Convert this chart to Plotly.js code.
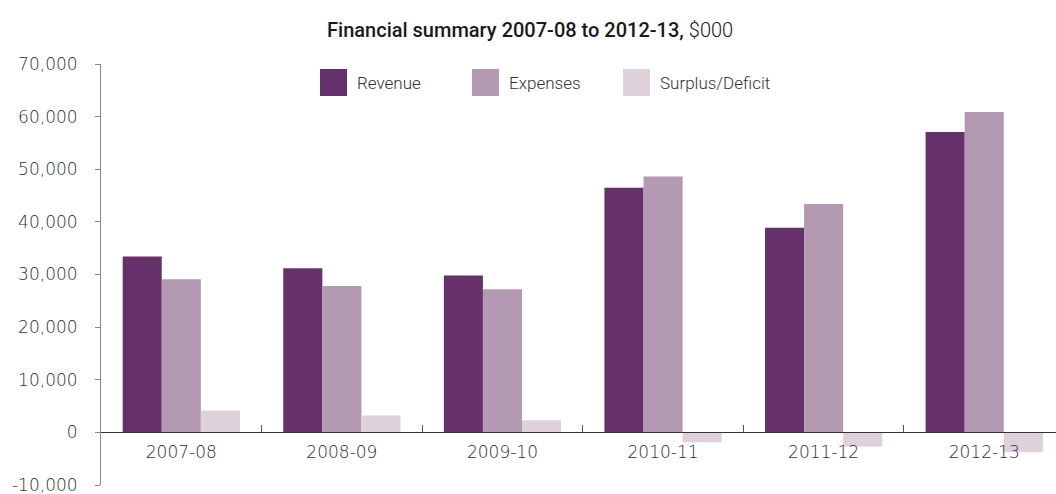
<!DOCTYPE html>
<html>
<head>
<meta charset="utf-8">
<script src="https://cdn.plot.ly/plotly-3.0.1.min.js"></script>
<style>html,body{margin:0;padding:0;background:#fff;}#chart{width:1056px;height:494px;}</style>
</head>
<body>
<div id="chart"></div>
<script>
// ---- data ----
var categories = ["2007-08", "2008-09", "2009-10", "2010-11", "2011-12", "2012-13"];
var seriesNames = ["Revenue", "Expenses", "Surplus/Deficit"];
var revenue = [33400, 31200, 29800, 46500, 38900, 57100];
var expenses = [29100, 27800, 27200, 48600, 43400, 60900];
var surplus = [4100, 3200, 2300, -1900, -2700, -3800];
var yTickVals = [-10000, 0, 10000, 20000, 30000, 40000, 50000, 60000, 70000];
var yTickText = ["-10,000", "0", "10,000", "20,000", "30,000", "40,000", "50,000", "60,000", "70,000"];

// ---- styling ----
var colors = ["#66306A", "#B399B2", "#DED1DC"];
var W = 1056, H = 494;
var M = {l: 101, r: 0, t: 64, b: 9};
var plotW = W - M.l - M.r, plotH = H - M.t - M.b;
function px2x(px) { return (px - M.l) / plotW; }
function px2y(py) { return (H - M.b - py) / plotH; }
var legendFont = {family: "Roboto, 'DejaVu Sans', sans-serif", size: 17, color: "#333333", weight: 300};
var tickFont = {family: "'DejaVu Sans', sans-serif", size: 17, color: "#2e2e2e", weight: 200};

var valuesList = [revenue, expenses, surplus];
var traces = valuesList.map(function (vals, i) {
  return {
    type: "bar",
    name: seriesNames[i],
    x: categories,
    y: vals,
    marker: {color: colors[i], line: {width: 0}},
    showlegend: false,
    hoverinfo: "x+y+name"
  };
});

// manual legend (large square swatches)
var legendSwatchX = [320, 472, 623];
var legendTextX = [355, 507, 658];
var shapes = [], annotations = [];
seriesNames.forEach(function (n, i) {
  shapes.push({
    type: "rect", xref: "paper", yref: "paper",
    x0: px2x(legendSwatchX[i]), x1: px2x(legendSwatchX[i] + 27),
    y0: px2y(96), y1: px2y(69),
    fillcolor: colors[i], line: {width: 0}
  });
  annotations.push({
    xref: "paper", yref: "paper", x: px2x(legendTextX[i]), y: px2y(83),
    xanchor: "left", yanchor: "middle", showarrow: false,
    text: n, font: legendFont
  });
});

var layout = {
  width: W, height: H,
  margin: M,
  paper_bgcolor: "#fff", plot_bgcolor: "#fff",
  font: legendFont,
  title: {
    text: "Financial summary 2007-08 to 2012-13, <span style='font-weight:300'>$000</span>",
    font: {family: "Roboto, 'DejaVu Sans', sans-serif", size: 20, color: "#1a1a1a", weight: 500},
    x: 0.502, xref: "container", xanchor: "center",
    y: 1 - 30 / H, yref: "container", yanchor: "middle"
  },
  barmode: "group",
  bargap: 0.27,
  bargroupgap: 0,
  showlegend: false,
  xaxis: {
    type: "category",
    range: [-0.5, 5.447],
    anchor: "free",
    position: 10000 / 80000,
    showline: true, linecolor: "#333", linewidth: 1,
    ticks: "inside", ticklen: 7, tickcolor: "#555", tickwidth: 1,
    tickson: "boundaries",
    ticklabelstandoff: 4,
    showgrid: false, zeroline: false,
    tickfont: tickFont,
    fixedrange: true
  },
  yaxis: {
    range: [-10000, 70000],
    tickvals: yTickVals, ticktext: yTickText,
    showline: true, linecolor: "#8a8a8a", linewidth: 1,
    ticks: "outside", ticklen: 5, tickcolor: "#8a8a8a", tickwidth: 1,
    ticklabelstandoff: 14,
    ticklabeloverflow: "allow",
    showgrid: false, zeroline: false,
    tickfont: tickFont,
    fixedrange: true
  },
  shapes: shapes,
  annotations: annotations
};

Plotly.newPlot("chart", traces, layout, {displayModeBar: false, staticPlot: true});
</script>
</body>
</html>
